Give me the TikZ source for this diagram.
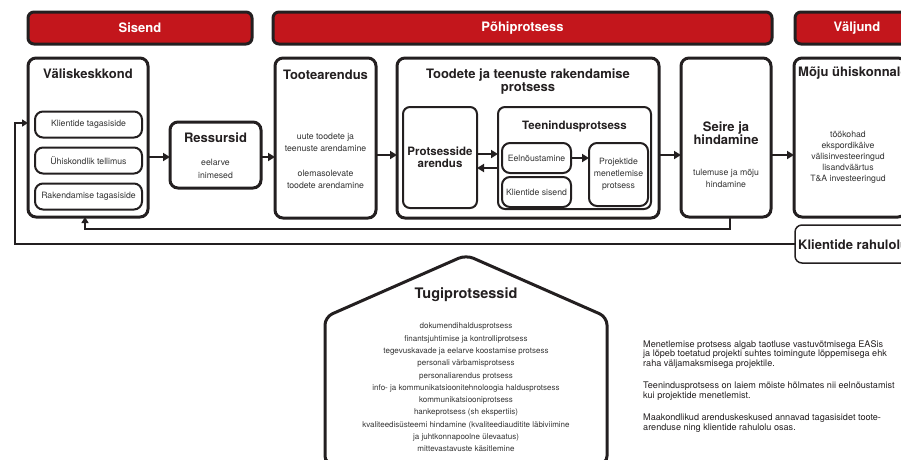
\documentclass[tikz,border=0pt]{standalone}
\usepackage{fontspec}
\setmainfont{TeX Gyre Heros}
\usetikzlibrary{arrows.meta}
\definecolor{hred}{HTML}{C3161C}
\definecolor{dk}{HTML}{231F20}
\definecolor{tx}{HTML}{333333}
\tikzset{
  hdr/.style={draw=dk, fill=hred, line width=3pt, rounded corners=6pt, inner sep=0pt, outer sep=0pt},
  bigbox/.style={draw=dk, line width=3pt, rounded corners=8pt, inner sep=0pt, outer sep=0pt},
  midbox/.style={draw=dk, line width=2pt, rounded corners=7pt, inner sep=0pt, outer sep=0pt},
  smallbox/.style={draw=dk, line width=2pt, rounded corners=8pt, inner sep=0pt, outer sep=0pt},
  thinbox/.style={draw=dk, line width=1.5pt, rounded corners=7pt, inner sep=0pt, outer sep=0pt},
  hdrtxt/.style={font=\bfseries\fontsize{13}{15}\selectfont, text=white, inner sep=0pt},
  ttl/.style={font=\bfseries\fontsize{13}{13}\selectfont, text=dk, inner sep=0pt, align=center},
  sttl/.style={font=\bfseries\fontsize{11.5}{11.5}\selectfont, text=dk, inner sep=0pt, align=center},
  txt/.style={font=\fontsize{8.7}{12}\selectfont, text=tx, inner sep=0pt, align=center},
  note/.style={font=\fontsize{9.1}{9.8}\selectfont, text=dk, inner sep=0pt, align=left, anchor=north west},
  arr/.style={draw=dk, line width=2.5pt, -{Triangle[length=7pt,width=8pt]}},
  fbarr/.style={draw=dk, line width=2pt, -{Triangle[length=6pt,width=7pt]}},
}
\begin{document}
\begin{tikzpicture}[x=1pt,y=-1pt]
\useasboundingbox (0,0) rectangle (901,459);
% headers
\node[hdr, minimum width=224pt, minimum height=32pt] (hsis) at (140,28) {};
\node[hdrtxt] (hsist) at (hsis) {Sisend};
\node[hdr, minimum width=499pt, minimum height=32pt] (hpoh) at (522.5,28) {};
\node[hdrtxt] (hpoht) at (hpoh) {Põhiprotsess};
\node[hdr, minimum width=124pt, minimum height=32pt] (hval) at (857,28) {};
\node[hdrtxt] (hvalt) at (hval) {Väljund};
% helper heights
\coordinate (ay) at (0,157);
\coordinate (by) at (0,155);
\coordinate (py1) at (0,154);
\coordinate (py2) at (0,168);
% Väliskeskkond
\node[bigbox, minimum width=120pt, minimum height=159pt] (vk) at (88,137.5) {};
\node[ttl] (vkt) at (88,74) {Väliskeskkond};
\node[smallbox, minimum width=107pt, minimum height=26pt] (kt) at (88.5,124.5) {};
\node[txt] at (kt) {Klientide tagasiside};
\node[smallbox, minimum width=107pt, minimum height=26pt] (ut) at (88.5,160.5) {};
\node[txt] at (ut) {Ühiskondlik tellimus};
\node[smallbox, minimum width=107pt, minimum height=26pt] (rt) at (88.5,196.5) {};
\node[txt] at (rt) {Rakendamise tagasiside};
% Ressursid
\node[bigbox, minimum width=91pt, minimum height=66pt] (res) at (215.5,155) {};
\node[ttl] (rest) at (215.5,138) {Ressursid};
\node[txt, font=\fontsize{8.7}{13}\selectfont] (resx) at (215.5,168.5) {eelarve\\inimesed};
% Tootearendus
\node[bigbox, minimum width=101pt, minimum height=160pt] (ta) at (325.5,138) {};
\node[ttl] (tat) at (325.5,75) {Tootearendus};
\node[txt] (tax1) at (325.5,142) {uute toodete ja\\teenuste arendamine};
\node[txt] (tax2) at (325.5,179) {olemasolevate\\toodete arendamine};
% Toodete ja teenuste rakendamise protsess
\node[bigbox, minimum width=262pt, minimum height=160pt] (tt) at (528,138) {};
\node[ttl] (ttt) at (528,81.5) {Toodete ja teenuste rakendamise\\protsess};
\node[midbox, minimum width=74pt, minimum height=101pt] (pa) at (440,157.5) {};
\node[sttl] (pat) at (440,157.5) {Protsesside\\arendus};
\node[midbox, minimum width=153pt, minimum height=102pt] (tp) at (574.5,158) {};
\node[sttl] (tpt) at (574.5,126) {Teenindusprotsess};
\node[smallbox, minimum width=69pt, minimum height=30pt] (ee) at (536.5,158) {};
\node[txt] at (ee) {Eelnõustamine};
\node[smallbox, minimum width=69pt, minimum height=30pt] (ks) at (536.5,192) {};
\node[txt] at (ks) {Klientide sisend};
\node[smallbox, minimum width=59pt, minimum height=63pt] (pm) at (618.5,174.5) {};
\node[txt] (pmt) at (618.5,174) {Projektide\\menetlemise\\protsess};
% Seire ja hindamine
\node[bigbox, minimum width=90pt, minimum height=159pt] (sh) at (726,137.5) {};
\node[ttl] (sht) at (726,133.5) {Seire ja\\hindamine};
\node[txt, font=\fontsize{8.7}{11.5}\selectfont] (shx) at (726,178.5) {tulemuse ja mõju\\hindamine};
% Mõju ühiskonnale
\node[bigbox, minimum width=112pt, minimum height=159pt] (mu) at (850,137.5) {};
\node[ttl, anchor=west] (mut) at (798,73) {Mõju ühiskonnale};
\node[txt, font=\fontsize{8.7}{11}\selectfont] (mux) at (848,157) {töökohad\\ekspordikäive\\välisinvesteeringud\\lisandväärtus\\T\&A investeeringud};
% Klientide rahulolu
\node[thinbox, minimum width=130pt, minimum height=38pt] (kr) at (860,244) {};
\node[ttl, anchor=west] (krt) at (798,245) {Klientide rahulolu};
% main arrows
\draw[arr] (vk.east |- ay) -- (res.west |- ay);
\draw[arr] (res.east |- ay) -- (ta.west |- ay);
\draw[arr] (ta.east |- by) -- (tt.west |- by);
\draw[arr] (pa.east |- py1) -- (tp.west |- py1);
\draw[arr] (tp.west |- py2) -- (pa.east |- py2);
\draw[arr] (ee.east) -- (pm.west |- ee.east);
\draw[arr] (tt.east |- by) -- (sh.west |- by);
\draw[arr] (sh.east |- by) -- (mu.west |- by);
% feedback loops
\coordinate (fb1) at (0,229);
\draw[fbarr] ([xshift=4pt]sh.south) -- ([xshift=4pt]sh.south |- fb1) -| ([xshift=-3pt]vk.south);
\coordinate (fb2) at (15,123);
\draw[fbarr] (kr.west) -| (fb2) -- (vk.west |- fb2);
% Tugiprotsessid house
\draw[draw=dk, line width=3pt, rounded corners=8pt] (325,464) -- (325,317) -- (466,255) -- (607,317) -- (607,464) -- cycle;
\node[font=\bfseries\fontsize{14.5}{15}\selectfont, text=dk, inner sep=0pt] (tug) at (466,295) {Tugiprotsessid};
\node[txt, font=\fontsize{8}{12.3}\selectfont] (tugx) at (466,387.5) {dokumendihaldusprotsess\\finantsjuhtimise ja kontrolliprotsess\\tegevuskavade ja eelarve koostamise protsess\\personali värbamisprotsess\\personaliarendus protsess\\info- ja kommunikatsioonitehnoloogia haldusprotsess\\kommunikatsiooniprotsess\\hankeprotsess (sh ekspertiis)\\kvaliteedisüsteemi hindamine (kvaliteediauditite läbiviimine\\ja juhtkonnapoolne ülevaatus)\\mittevastavuste käsitlemine};
% notes
\node[note] (n1) at (643,340) {Menetlemise protsess algab taotluse vastuvõtmisega EASis\\ja lõpeb toetatud projekti suhtes toimingute lõppemisega ehk\\raha väljamaksmisega projektile.};
\node[note] (n2) at (643,382) {Teenindusprotsess on laiem mõiste hõlmates nii eelnõustamist\\kui projektide menetlemist.};
\node[note] (n3) at (643,414) {Maakondlikud arenduskeskused annavad tagasisidet toote-\\arenduse ning klientide rahulolu osas.};
\end{tikzpicture}
\end{document}
